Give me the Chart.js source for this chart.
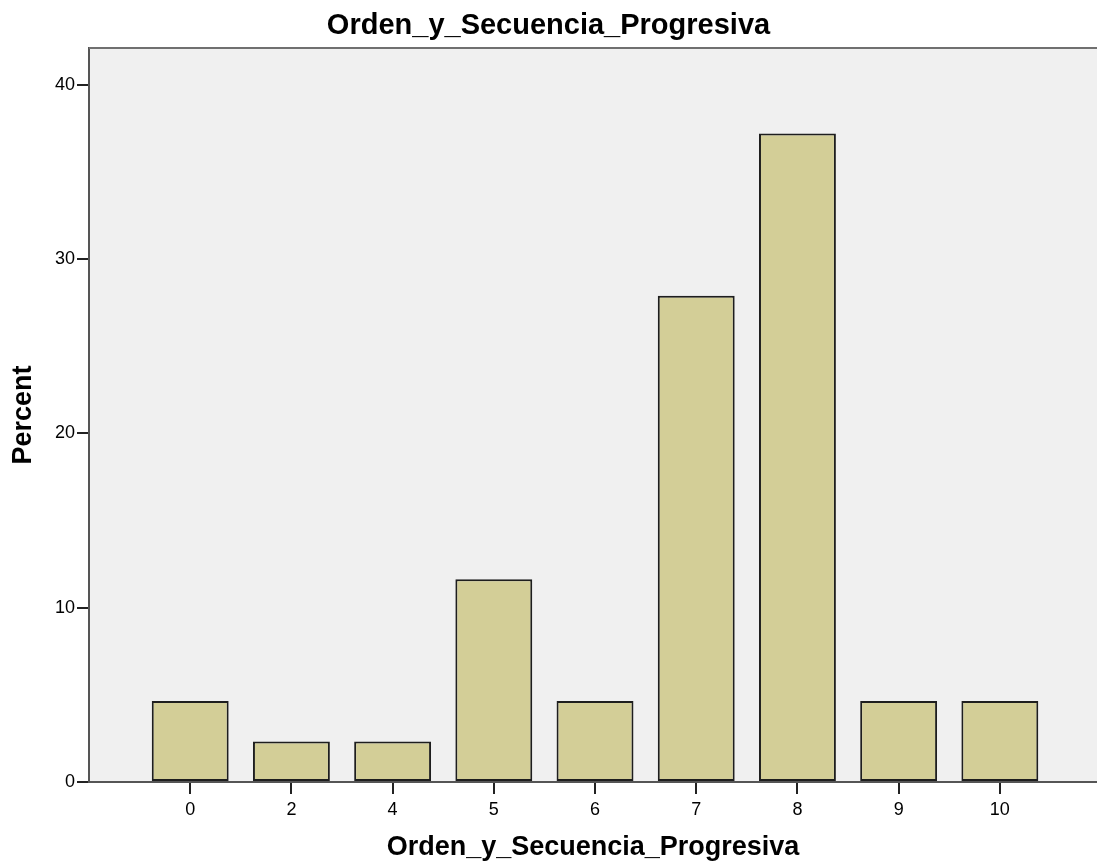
<!DOCTYPE html>
<html>
<head>
<meta charset="utf-8">
<title>Orden_y_Secuencia_Progresiva</title>
<script src="https://cdn.jsdelivr.net/npm/chart.js@4.4.1/dist/chart.umd.min.js"></script>
<style>
    html, body { margin: 0; padding: 0; background: #fff; }
    #wrap { width: 1097px; height: 865px; }
</style>
</head>
<body>
<div id="wrap"><canvas id="chart"></canvas></div>
<script>
const categories = ['0', '2', '4', '5', '6', '7', '8', '9', '10'];
const percents = [4.65, 2.33, 2.33, 11.63, 4.65, 27.91, 37.21, 4.65, 4.65];
const yTicks = [0, 10, 20, 30, 40];

const FONT = '"Liberation Sans", Arial, sans-serif';

const plotFrame = {
    id: 'plotFrame',
    beforeDraw(chart) {
        const { ctx, chartArea } = chart;
        ctx.save();
        ctx.fillStyle = '#f0f0f0';
        ctx.fillRect(chartArea.left, chartArea.top, chartArea.right - chartArea.left, chartArea.bottom - chartArea.top);
        ctx.restore();
    },
    afterDraw(chart) {
        const { ctx, chartArea } = chart;
        ctx.save();
        ctx.strokeStyle = '#707070';
        ctx.lineWidth = 2;
        ctx.beginPath();
        ctx.moveTo(chartArea.left, chartArea.top);
        ctx.lineTo(chartArea.right, chartArea.top);
        ctx.stroke();
        ctx.restore();
    }
};

const canvas = document.getElementById('chart');

new Chart(canvas, {
    type: 'bar',
    data: {
        datasets: [
            {
                label: 'Percent',
                data: percents.map((v, i) => ({ x: i, y: v })),
                backgroundColor: '#d3ce97',
                borderColor: '#1e1e1e',
                borderWidth: 2,
                borderSkipped: false,
                categoryPercentage: 1,
                barPercentage: 0.76
            }
        ]
    },
    options: {
        responsive: true,
        maintainAspectRatio: false,
        animation: false,
        layout: { padding: 0 },
        plugins: {
            legend: { display: false },
            tooltip: { enabled: false },
            title: {
                display: true,
                text: 'Orden_y_Secuencia_Progresiva',
                color: '#000',
                font: { family: FONT, size: 29, weight: 'bold', lineHeight: 1.2 },
                padding: { top: 8.5, bottom: 4.7 }
            }
        },
        scales: {
            x: {
                type: 'linear',
                offset: false,
                min: -1,
                max: 8.96,
                afterBuildTicks: (scale) => {
                    scale.ticks = categories.map((c, i) => ({ value: i }));
                },
                afterFit: (scale) => { scale.height = 83; },
                ticks: {
                    autoSkip: false,
                    maxRotation: 0,
                    color: '#000',
                    padding: 5,
                    font: { family: FONT, size: 18 },
                    callback: (v) => categories[v]
                },
                grid: {
                    display: true,
                    offset: false,
                    drawOnChartArea: false,
                    drawTicks: true,
                    tickLength: 12,
                    color: '#222',
                    lineWidth: 2
                },
                border: { display: true, color: '#555', width: 2 },
                title: {
                    display: true,
                    text: 'Orden_y_Secuencia_Progresiva',
                    color: '#000',
                    font: { family: FONT, size: 27, weight: 'bold', lineHeight: 1.2 },
                    padding: { top: 0, bottom: 0.8 }
                }
            },
            y: {
                min: 0,
                max: 42.12,
                afterBuildTicks: (scale) => {
                    scale.ticks = yTicks.map((v) => ({ value: v }));
                },
                afterFit: (scale) => { scale.width = 89; },
                ticks: {
                    color: '#000',
                    padding: 2,
                    font: { family: FONT, size: 18 }
                },
                grid: {
                    display: true,
                    drawOnChartArea: false,
                    drawTicks: true,
                    tickLength: 12,
                    color: '#222',
                    lineWidth: 2
                },
                border: { display: true, color: '#555', width: 2 },
                title: {
                    display: true,
                    text: 'Percent',
                    color: '#000',
                    font: { family: FONT, size: 27, weight: 'bold', lineHeight: 1.2 },
                    padding: { top: 7.8, bottom: 0 }
                }
            }
        }
    },
    plugins: [plotFrame]
});
</script>
</body>
</html>
